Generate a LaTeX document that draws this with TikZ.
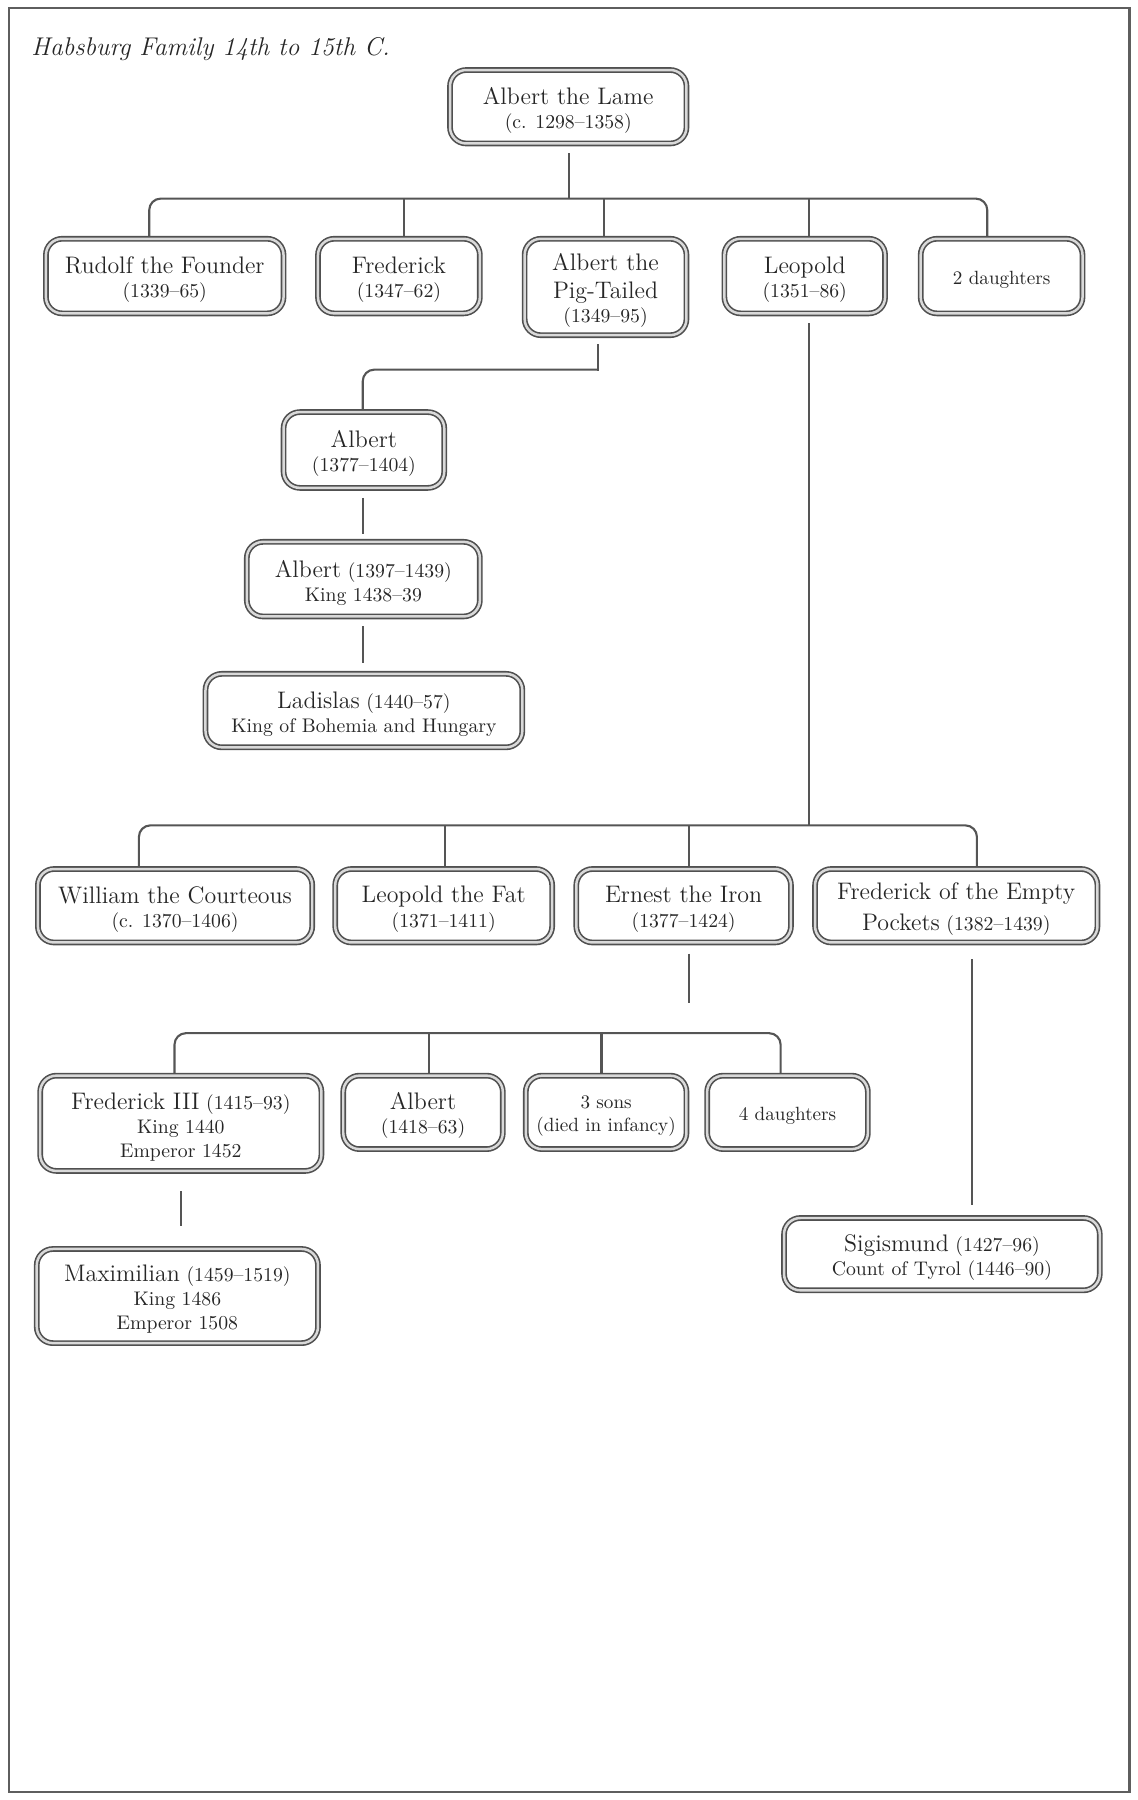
\documentclass[tikz,border=0pt]{standalone}
\usepackage{fontspec}
\usetikzlibrary{calc,backgrounds}
\definecolor{linec}{HTML}{555555}
\definecolor{boxc}{HTML}{505050}
\definecolor{txt}{HTML}{262626}
\definecolor{framec}{HTML}{5E5E5E}
\newcommand{\nm}[1]{{\fontsize{12.5}{12.6}\selectfont #1}}
\tikzset{
  famb/.style={draw=boxc, line width=0.85pt, double=gray!30, double distance=1.3pt,
    rounded corners=8.5pt, fill=white, inner sep=0pt},
  famt/.style={inner sep=0pt, align=center, text=txt, font=\fontsize{10.3}{12.6}\selectfont},
  conn/.style={draw=linec, line width=1.1pt},
}
% name, x, y, width(pt), height(pt), text options, text
\newcommand{\famnode}[7]{%
  \node[famb, minimum width=#4pt, minimum height=#5pt] (#1) at (#2,#3) {};
  \node[famt, #6] (#1-t) at ($(#1.center)+(0,3)$) {#7};
}
\begin{document}
\begin{tikzpicture}[x=0.6pt,y=-0.6pt]
\useasboundingbox (0,0) rectangle (991,1568);
\draw[framec, line width=1.3pt] (8,7) rectangle (984,1561);
\node[anchor=base west, inner sep=0pt, text=txt, font=\fontsize{13.4}{15}\selectfont\itshape] (title) at (27,48) {Habsburg Family 14th to 15th C.};

% generation 0
\famnode{lame}{495}{93}{123.6}{38.4}{}{\nm{Albert the Lame}\\(c. 1298--1358)}
% generation 1
\famnode{rudolf}{143.5}{240.5}{124.2}{39}{}{\nm{Rudolf the Founder}\\(1339--65)}
\famnode{fred}{347.5}{240.5}{84.6}{39}{}{\nm{Frederick}\\(1347--62)}
\famnode{albpt}{527.5}{250}{84.6}{50.4}{}{\nm{Albert the}\\[2.4pt]\nm{Pig-Tailed}\\(1349--95)}
\famnode{leo}{701}{240.5}{84}{39}{}{\nm{Leopold}\\(1351--86)}
\famnode{dau2}{872.5}{240.5}{84.6}{39}{font=\fontsize{10}{12}\selectfont}{2 daughters}
% Albertine line
\famnode{alb1}{317}{392}{84}{39.6}{}{\nm{Albert}\\(1377--1404)}
\famnode{alb2}{316.5}{504.5}{121.8}{39}{}{\nm{Albert} (1397--1439)\\King 1438--39}
\famnode{lad}{317}{619}{165.6}{38.4}{}{\nm{Ladislas} (1440--57)\\King of Bohemia and Hungary}
% Leopoldine line
\famnode{wil}{152.5}{789}{143.4}{38.4}{}{\nm{William the Courteous}\\(c. 1370--1406)}
\famnode{leofat}{386.5}{789}{113.4}{38.4}{}{\nm{Leopold the Fat}\\(1371--1411)}
\famnode{ernest}{595.5}{789}{112.2}{38.4}{}{\nm{Ernest the Iron}\\(1377--1424)}
\famnode{fredep}{833}{789}{147.6}{38.4}{}{\nm{Frederick of the Empty}\\[3.4pt]\nm{Pockets} (1382--1439)}
% Ernest's children
\famnode{fred3}{157.5}{978.5}{147}{49.8}{}{\nm{Frederick III} (1415--93)\\King 1440\\Emperor 1452}
\famnode{alb3}{368.5}{969}{83.4}{38.4}{}{\nm{Albert}\\(1418--63)}
\famnode{sons}{528}{969}{84}{38.4}{font=\fontsize{10}{12.3}\selectfont}{3 sons\\(died in infancy)}
\famnode{dau4}{686}{969}{84}{38.4}{font=\fontsize{10}{12}\selectfont}{4 daughters}
\famnode{max}{154.5}{1129}{147}{49.2}{}{\nm{Maximilian} (1459--1519)\\King 1486\\Emperor 1508}
\famnode{sig}{820.5}{1092.5}{165}{37.8}{}{\nm{Sigismund} (1427--96)\\Count of Tyrol (1446--90)}

\begin{pgfonlayer}{background}
% bar 1
\coordinate (b1) at (496,173);
\coordinate (l0) at ($(lame.south)+(1,8)$);
\draw[conn] (l0) -- (l0 |- b1);
\coordinate (d11) at ($(rudolf.north)+(-13.5,0)$);
\coordinate (d12) at ($(fred.north)+(4.5,0)$);
\coordinate (d13) at ($(albpt.north)+(-1.5,0)$);
\coordinate (d14) at ($(leo.north)+(4,0)$);
\coordinate (d15) at ($(dau2.north)+(-12.5,0)$);
\draw[conn, rounded corners=6pt] (d11) |- (b1) -| (d15);
\draw[conn] (d12) -- (d12 |- b1);
\draw[conn] (d13) -- (d13 |- b1);
\draw[conn] (d14) -- (d14 |- b1);
% Albert the Pig-Tailed to Albert
\coordinate (a1) at ($(albpt.south)+(-6.5,8)$);
\coordinate (h1) at (420,322);
\draw[conn, line cap=rect] (a1) -- (a1 |- h1);
\draw[conn, rounded corners=6pt] (a1 |- h1) -| ($(alb1.north)+(-1,-1)$);
\draw[conn] ($(alb1.south)+(-1,8)$) -- ($(alb2.north)+(-0.5,-6)$);
\draw[conn] ($(alb2.south)+(-0.5,8)$) -- ($(lad.north)+(-1,-9)$);
% Leopold to bar 2
\coordinate (b2) at (705,719);
\coordinate (ls) at ($(leo.south)+(4,8)$);
\draw[conn] (ls) -- (ls |- b2);
\coordinate (d21) at ($(wil.north)+(-31.5,0)$);
\coordinate (d22) at ($(leofat.north)+(1.5,0)$);
\coordinate (d23) at ($(ernest.north)+(4.5,0)$);
\coordinate (d24) at ($(fredep.north)+(18,0)$);
\draw[conn, rounded corners=6pt] (d21) |- (b2) -| (d24);
\draw[conn] (d22) -- (d22 |- b2);
\draw[conn] (d23) -- (d23 |- b2);
% Ernest to bar 3
\draw[conn] ($(ernest.south)+(4.5,9)$) -- ($(ernest.south)+(4.5,52)$);
\coordinate (b3) at (600,900);
\coordinate (d31) at ($(fred3.north)+(-5.5,0)$);
\coordinate (d32) at ($(alb3.north)+(5.5,0)$);
\coordinate (d33) at ($(sons.north)+(-4,0)$);
\coordinate (d34) at ($(dau4.north)+(-6,0)$);
\draw[conn, rounded corners=6pt] (d31) |- (b3) -| (d34);
\draw[conn] (d32) -- (d32 |- b3);
\draw[conn] (d33) -- (d33 |- b3);
% Frederick III to Maximilian
\draw[conn] ($(fred3.south)+(0.5,17)$) -- ($(max.north)+(3.5,-19)$);
% Frederick of the Empty Pockets to Sigismund
\draw[conn] ($(fredep.south)+(14,14)$) -- ($(sig.north)+(26.5,-11)$);
\end{pgfonlayer}
\end{tikzpicture}
\end{document}
